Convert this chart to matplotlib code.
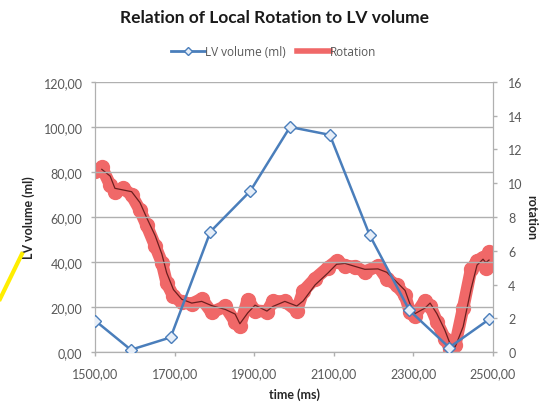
import numpy as np
import matplotlib.pyplot as plt
from matplotlib.lines import Line2D
from matplotlib.ticker import FuncFormatter

plt.rcParams['font.family'] = ['Lato', 'DejaVu Sans']

# LV volume (ml), left axis
lv_time = [1500, 1590, 1690, 1790, 1890, 1990, 2090, 2190, 2290, 2390, 2490]
lv_volume = [14, 1, 6.5, 53.5, 71.5, 100, 96.5, 52, 18.5, 2, 14.5]

# local rotation, right axis
rot_time = [1500, 1517, 1538, 1550, 1571, 1592, 1613, 1630, 1651, 1668, 1680, 1697,
            1718, 1743, 1768, 1793, 1827, 1852, 1864, 1884, 1902, 1932, 1947, 1977,
            2007, 2023, 2053, 2085, 2107, 2128, 2153, 2178, 2211, 2233, 2258, 2279,
            2291, 2304, 2329, 2342, 2359, 2379, 2392, 2405, 2425, 2445, 2460, 2475,
            2482, 2490]
rotation = [10.7, 10.95, 9.9, 9.5, 9.7, 9.3, 8.4, 7.5, 6.3, 5.3, 4.1, 3.3,
            2.95, 2.85, 3.15, 2.35, 2.7, 1.8, 1.55, 3.1, 2.45, 2.4, 3.0, 3.0,
            2.45, 3.6, 4.35, 5.0, 5.4, 5.1, 5.05, 4.75, 5.1, 4.35, 3.95, 3.35,
            2.4, 2.15, 3.05, 2.75, 1.8, 0.8, 0.2, 0.4, 2.6, 4.9, 5.4, 5.6,
            5.0, 5.9]

left_ticks = [0, 20, 40, 60, 80, 100, 120]
right_ticks = [0, 2, 4, 6, 8, 10, 12, 14, 16]
x_ticks = [1500, 1700, 1900, 2100, 2300, 2500]

grey = '#595959'
blue = '#4A7EBB'
red = '#F06868'

fig = plt.figure(figsize=(5.48, 4.06), dpi=100)
ax = fig.add_axes([0.1734, 0.1305, 0.7262, 0.6651])
ax2 = ax.twinx()

# blue volume line (left)
ax.plot(lv_time, lv_volume, color=blue, lw=1.8, marker='D', ms=6,
        mfc='#e6eef8', mec=blue, mew=1.0, zorder=3)
ax.set_zorder(ax2.get_zorder() + 1)
ax.patch.set_visible(False)

# red rotation line + thin moving average (right)
ax2.plot(rot_time, rotation, color=red, lw=9, marker='o', ms=10,
         solid_capstyle='round', solid_joinstyle='round', zorder=2)
r = np.array(rotation)
ma = (r[1:] + r[:-1]) / 2
ax2.plot(rot_time[1:], ma, color='#6b1f1f', lw=0.9, zorder=3)

ax.set_xlim(1500, 2500)
ax.set_ylim(0, 120)
ax2.set_ylim(0, 16)
ax.set_xticks(x_ticks)
ax.set_yticks(left_ticks)
ax2.set_yticks(right_ticks)
comma = FuncFormatter(lambda v, p: ('%.2f' % v).replace('.', ','))
ax.xaxis.set_major_formatter(comma)
ax.yaxis.set_major_formatter(comma)

ax.grid(axis='y', color='#b0b0b0', lw=1)
ax.grid(axis='x', visible=False)
for a in (ax, ax2):
    for s in a.spines.values():
        s.set_color('#b0b0b0')
    a.spines['top'].set_visible(False)
    a.tick_params(colors=grey, labelsize=9, length=3, width=1, color='#b0b0b0')
ax.tick_params(axis='y', pad=6)
ax.tick_params(axis='x', pad=8)
ax2.tick_params(axis='y', pad=8)

ax.set_xlabel('time (ms)', fontsize=9, fontweight='bold', color='#262626', labelpad=6)
ax.set_ylabel('LV volume (ml)', fontsize=9, fontweight='bold', color='#262626', labelpad=6)
ax2.set_ylabel('rotation', fontsize=9, fontweight='bold', color='#262626',
               rotation=-90, labelpad=10)

fig.suptitle('Relation of Local Rotation to LV volume', x=0.5, y=0.975,
             fontsize=12.5, fontweight='bold', color='#1a1a1a')

handles = [Line2D([], [], color=blue, lw=2, marker='D', ms=4, mfc='#e6eef8', mec=blue),
           Line2D([], [], color=red, lw=4)]
fig.legend(handles, ['LV volume (ml)', 'Rotation'], loc='center',
           bbox_to_anchor=(0.5, 0.8695), ncol=2, frameon=False,
           prop={'family': ['Open Sans', 'DejaVu Sans'], 'size': 8.5},
           labelcolor=grey, handlelength=2.8, handletextpad=0.0, columnspacing=1.0)

# yellow stroke at the left edge
fig.add_artist(Line2D([0.0, 0.04], [1 - 300 / 406, 1 - 255 / 406], color='#ffee00', lw=3))

fig.savefig('out.png', dpi=100)
